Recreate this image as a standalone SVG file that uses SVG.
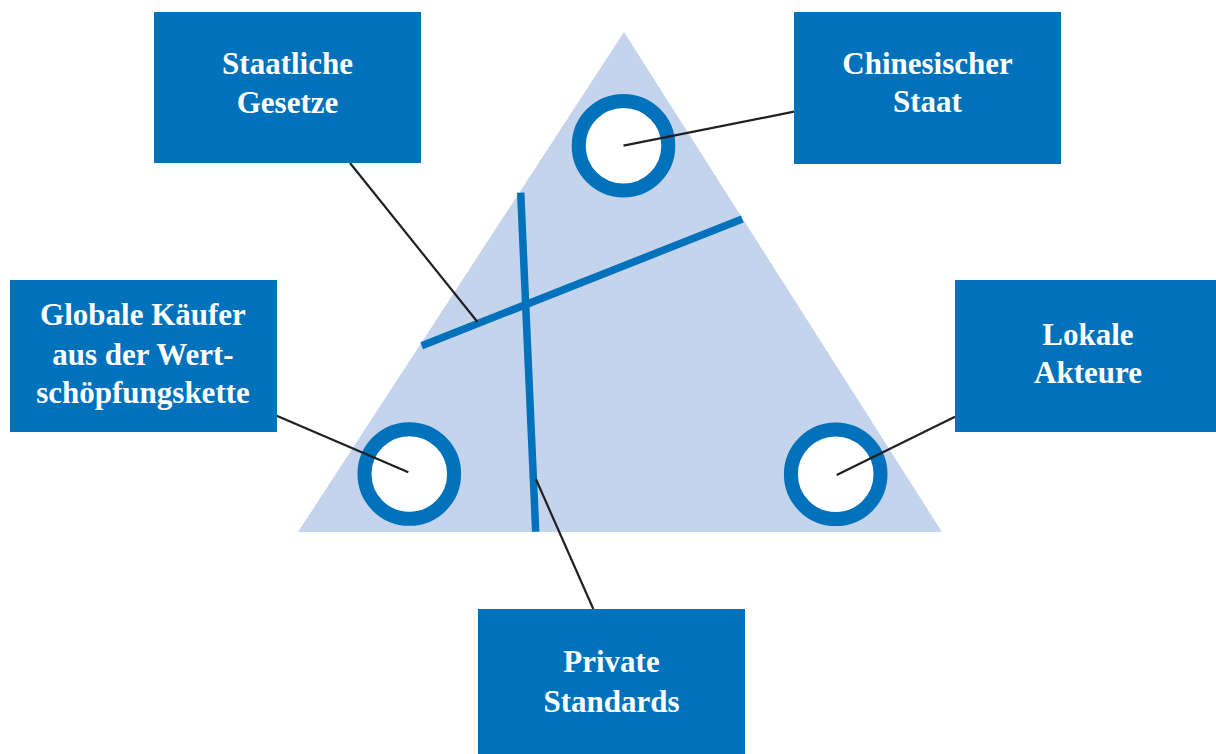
<svg xmlns="http://www.w3.org/2000/svg" width="1216" height="754" viewBox="0 0 1216 754">
<style>
.box{fill:#0071BB}
.t{font-family:"Liberation Serif","Times New Roman",serif;font-weight:bold;font-size:31px;fill:#FFFFFF;text-anchor:middle}
.ring{fill:#FFFFFF;stroke:#0071BB;stroke-width:14}
.bar{stroke:#0071BB;stroke-width:7.5;fill:none}
.lead{stroke:#231F20;stroke-width:2.2;fill:none}
</style>
<rect width="1216" height="754" fill="#FFFFFF"/>
<g id="triangle">
<polygon points="624,32 942,532 298,532" fill="#C5D4ED"/>
<line class="bar" x1="421.7" y1="345.7" x2="742.3" y2="219"/>
<line class="bar" x1="520.7" y1="192.7" x2="535.7" y2="531.7"/>
</g>
<g id="ring-top"><circle class="ring" cx="623.5" cy="145.7" r="44.8"/></g>
<g id="ring-left"><circle class="ring" cx="409.3" cy="474" r="44.8"/></g>
<g id="ring-right"><circle class="ring" cx="835.7" cy="474.3" r="44.8"/></g>
<g id="connectors">
<line class="lead" x1="623.5" y1="145.7" x2="794" y2="111.7"/>
<line class="lead" x1="350" y1="163" x2="477.3" y2="321.7"/>
<line class="lead" x1="276.7" y1="415.7" x2="408.3" y2="472.3"/>
<line class="lead" x1="955" y1="416.7" x2="836.7" y2="475"/>
<line class="lead" x1="593.3" y1="609" x2="536" y2="479.3"/>
</g>
<g id="staatliche-gesetze">
<rect class="box" x="154" y="12" width="267" height="151"/>
<text class="t" x="287.5" y="74">Staatliche</text>
<text class="t" x="287.5" y="112.5">Gesetze</text>
</g>
<g id="chinesischer-staat">
<rect class="box" x="794" y="12" width="267" height="152"/>
<text class="t" x="927.5" y="74">Chinesischer</text>
<text class="t" x="927.5" y="112">Staat</text>
</g>
<g id="globale-kaeufer">
<rect class="box" x="10" y="280" width="267" height="152"/>
<text class="t" x="143" y="325">Globale Käufer</text>
<text class="t" x="143" y="364.5">aus der Wert-</text>
<text class="t" x="143" y="403">schöpfungskette</text>
</g>
<g id="lokale-akteure">
<rect class="box" x="955" y="280" width="266" height="152"/>
<text class="t" x="1088" y="345">Lokale</text>
<text class="t" x="1088" y="383">Akteure</text>
</g>
<g id="private-standards">
<rect class="box" x="478" y="609" width="267" height="150"/>
<text class="t" x="611.5" y="672">Private</text>
<text class="t" x="611.5" y="711.5">Standards</text>
</g>
</svg>
